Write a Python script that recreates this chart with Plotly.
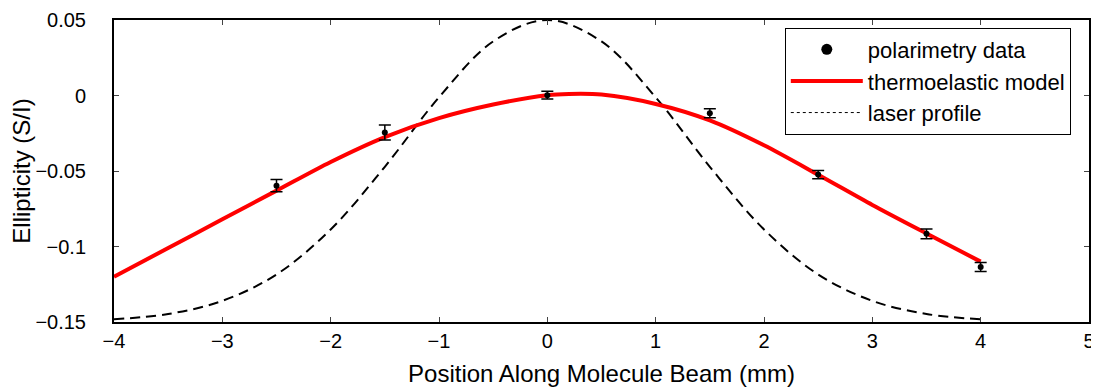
import plotly.graph_objects as go

# polarimetry measurements
pos_mm = [-2.5, -1.5, 0.0, 1.5, 2.5, 3.5, 4.0]
ellipticity = [-0.0597, -0.0245, 0.0002, -0.0117, -0.0524, -0.0916, -0.1136]
ellipticity_err = [0.0040, 0.0050, 0.0026, 0.0030, 0.0028, 0.0032, 0.0030]

# thermoelastic model curve
model_x = [-4.0, -3.5, -3.0, -2.5, -2.0, -1.5, -1.0, -0.5, 0.0, 0.2, 0.5,
           1.0, 1.5, 2.0, 2.5, 3.0, 3.5, 4.0]
model_y = [-0.1200, -0.1010, -0.0820, -0.0630, -0.0440, -0.0275, -0.0150,
           -0.0060, 0.0002, 0.0010, 0.0006, -0.0056, -0.0165, -0.0330,
           -0.0525, -0.0725, -0.0914, -0.1100]

# laser profile (scaled gaussian)
laser_x = [-4.0, -3.5, -3.0, -2.5, -2.0, -1.5, -1.0, -0.5, 0.0,
           0.5, 1.0, 1.5, 2.0, 2.5, 3.0, 3.5, 4.0]
laser_y = [-0.1482, -0.1447, -0.1360, -0.1185, -0.0887, -0.0472, -0.0012,
           0.0358, 0.0500, 0.0358, -0.0012, -0.0472, -0.0887, -0.1185,
           -0.1360, -0.1447, -0.1482]

FONT = "Liberation Sans, Arial, sans-serif"

fig = go.Figure()

fig.add_trace(go.Scatter(
    x=laser_x, y=laser_y, mode="lines", showlegend=False,
    line=dict(color="black", width=2, dash="10px,6px", shape="spline"),
))
fig.add_trace(go.Scatter(
    x=model_x, y=model_y, mode="lines", showlegend=False,
    line=dict(color="#ff0000", width=4, shape="spline", smoothing=0.8),
))
fig.add_trace(go.Scatter(
    x=pos_mm, y=ellipticity, mode="markers", showlegend=False,
    marker=dict(color="black", size=6),
    error_y=dict(type="data", array=ellipticity_err, color="black",
                 thickness=1.5, width=6),
))

# legend entries (MATLAB-style: laser profile shown dotted)
fig.add_trace(go.Scatter(x=[None], y=[None], mode="markers",
                         name="polarimetry data",
                         marker=dict(color="black", size=11)))
fig.add_trace(go.Scatter(x=[None], y=[None], mode="lines",
                         name="thermoelastic model",
                         line=dict(color="#ff0000", width=4)))
fig.add_trace(go.Scatter(x=[None], y=[None], mode="lines",
                         name="laser profile",
                         line=dict(color="black", width=1, dash="dot")))

axis_common = dict(
    showline=True, linecolor="black", linewidth=2, mirror="allticks",
    ticks="inside", ticklen=5, tickcolor="#444", tickwidth=1,
    showgrid=False, zeroline=False, automargin=False,
    ticklabeloverflow="allow",
    tickfont=dict(family=FONT, size=20, color="black"),
)

# page has an 8px body margin, so the figure is sized to fit inside it
fig.update_layout(
    width=1091, height=383,
    margin=dict(l=106, r=10, t=12, b=69),
    plot_bgcolor="white", paper_bgcolor="white",
    font=dict(family=FONT, color="black"),
    xaxis=dict(range=[-4, 5], tickvals=list(range(-4, 6)),
               title=dict(text="Position Along Molecule Beam (mm)",
                          font=dict(size=24), standoff=14),
               **axis_common),
    yaxis=dict(range=[-0.15, 0.05],
               tickvals=[-0.15, -0.1, -0.05, 0, 0.05],
               ticktext=["\u22120.15", "\u22120.1", "\u22120.05", "0", "0.05"],
               ticklabelstandoff=22,
               title=dict(text="Ellipticity (S/I)", font=dict(size=24),
                          standoff=0),
               **axis_common),
    legend=dict(x=0.688, y=0.975, xanchor="left", yanchor="top",
                bgcolor="white", bordercolor="black", borderwidth=1,
                font=dict(family=FONT, size=22),
                tracegroupgap=0, itemwidth=72),
)

fig.write_html("out.html")
